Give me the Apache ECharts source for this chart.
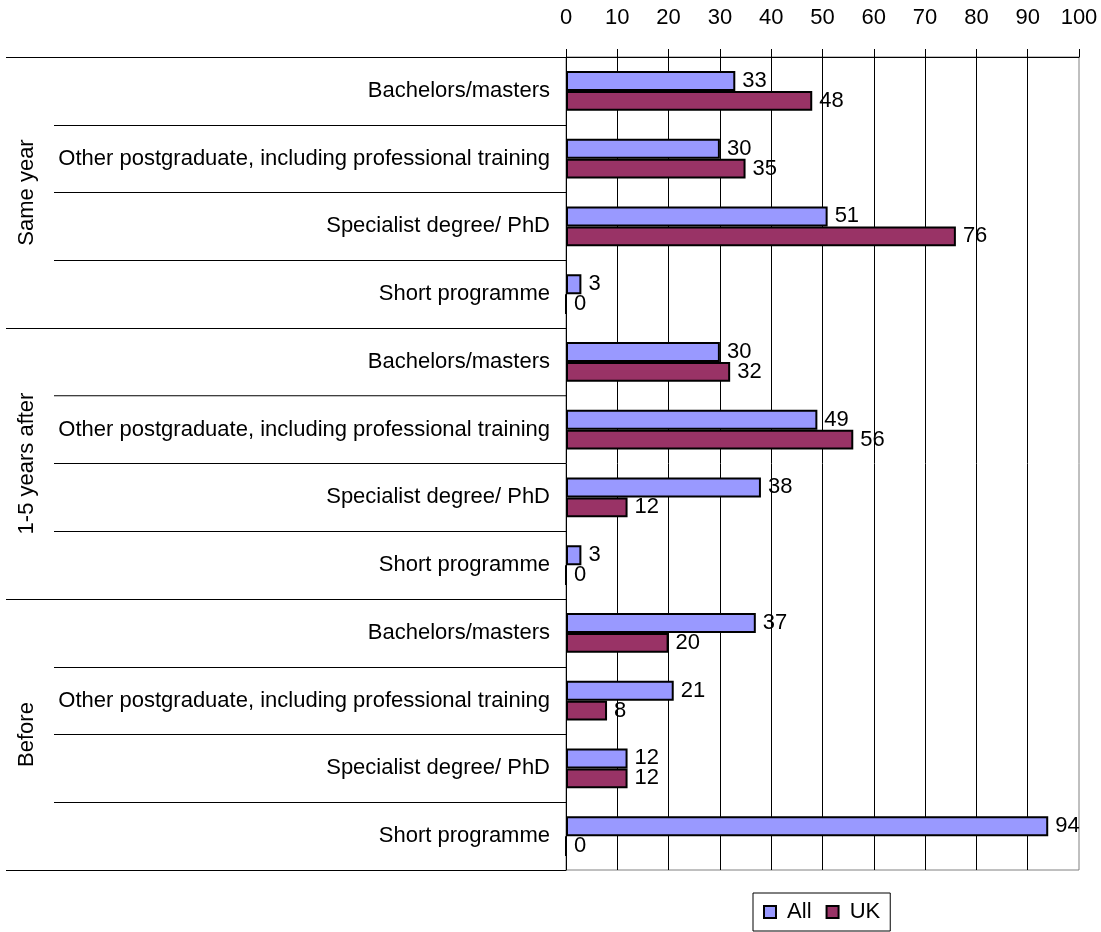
<!DOCTYPE html>
<html>
<head>
<meta charset="utf-8">
<script src="https://cdn.jsdelivr.net/npm/echarts@6/dist/echarts.min.js"></script>
<style>html,body{margin:0;padding:0;background:#fff}#c{width:1101px;height:932px}</style>
</head>
<body>
<div id="c"></div>
<script>
const categories = [
  'Bachelors/masters', 'Other postgraduate, including professional training', 'Specialist degree/ PhD', 'Short programme',
  'Bachelors/masters', 'Other postgraduate, including professional training', 'Specialist degree/ PhD', 'Short programme',
  'Bachelors/masters', 'Other postgraduate, including professional training', 'Specialist degree/ PhD', 'Short programme'
];
const groups = ['Same year', '1-5 years after', 'Before'];
const seriesNames = ['All', 'UK'];
const allValues = [33, 30, 51, 3, 30, 49, 38, 3, 37, 21, 12, 94];
const ukValues = [48, 35, 76, 0, 32, 56, 12, 0, 20, 8, 12, 0];
const xMin = 0, xMax = 100, xInterval = 10;

const FONT = '"Liberation Sans", Arial, sans-serif';
const chart = echarts.init(document.getElementById('c'));

function barSeries(name, data, color) {
  return {
    type: 'bar', name: name, data: data, yAxisIndex: 0,
    barGap: '0%', barCategoryGap: '41%',
    itemStyle: { color: color, borderColor: '#000', borderWidth: 2 },
    label: { show: true, position: 'right', distance: 7, fontSize: 22, color: '#000', fontFamily: FONT }
  };
}

chart.setOption({
  animation: false,
  backgroundColor: '#fff',
  textStyle: { fontFamily: FONT },
  grid: { left: 566, right: 22, top: 57, bottom: 62, show: true, borderColor: '#808080', borderWidth: 1 },
  legend: {
    data: seriesNames, left: 753, top: 893, orient: 'horizontal',
    borderColor: '#000', borderWidth: 1, padding: [8, 10, 8, 10],
    itemWidth: 12, itemHeight: 12, itemGap: 14, icon: 'rect',
    formatter: n => ' ' + n,
    textStyle: { fontSize: 22, color: '#000', fontFamily: FONT }
  },
  xAxis: {
    type: 'value', position: 'top', min: xMin, max: xMax, interval: xInterval,
    axisLine: { show: true, lineStyle: { color: '#000', width: 1 } },
    axisTick: { show: true, length: 8, lineStyle: { color: '#000' } },
    axisLabel: { fontSize: 22, color: '#000', margin: 28, fontFamily: FONT },
    splitLine: { show: true, showMinLine: false, showMaxLine: false, lineStyle: { color: '#000', width: 1 } }
  },
  yAxis: [
    {
      type: 'category', data: categories, inverse: true, position: 'left',
      axisLine: { show: true, lineStyle: { color: '#000', width: 1 } },
      axisTick: { show: true, length: 512, lineStyle: { color: '#000' } },
      axisLabel: { fontSize: 22, color: '#000', margin: 16, fontFamily: FONT },
      splitLine: { show: false }
    },
    {
      type: 'category', data: groups, inverse: true, position: 'left',
      axisLine: { show: false },
      axisTick: { show: true, length: 560, lineStyle: { color: '#000' } },
      axisLabel: { rotate: 90, fontSize: 22, color: '#000', margin: 528, fontFamily: FONT },
      splitLine: { show: false }
    }
  ],
  series: [
    barSeries(seriesNames[0], allValues, '#9999FF'),
    barSeries(seriesNames[1], ukValues, '#993366')
  ]
});
</script>
</body>
</html>
